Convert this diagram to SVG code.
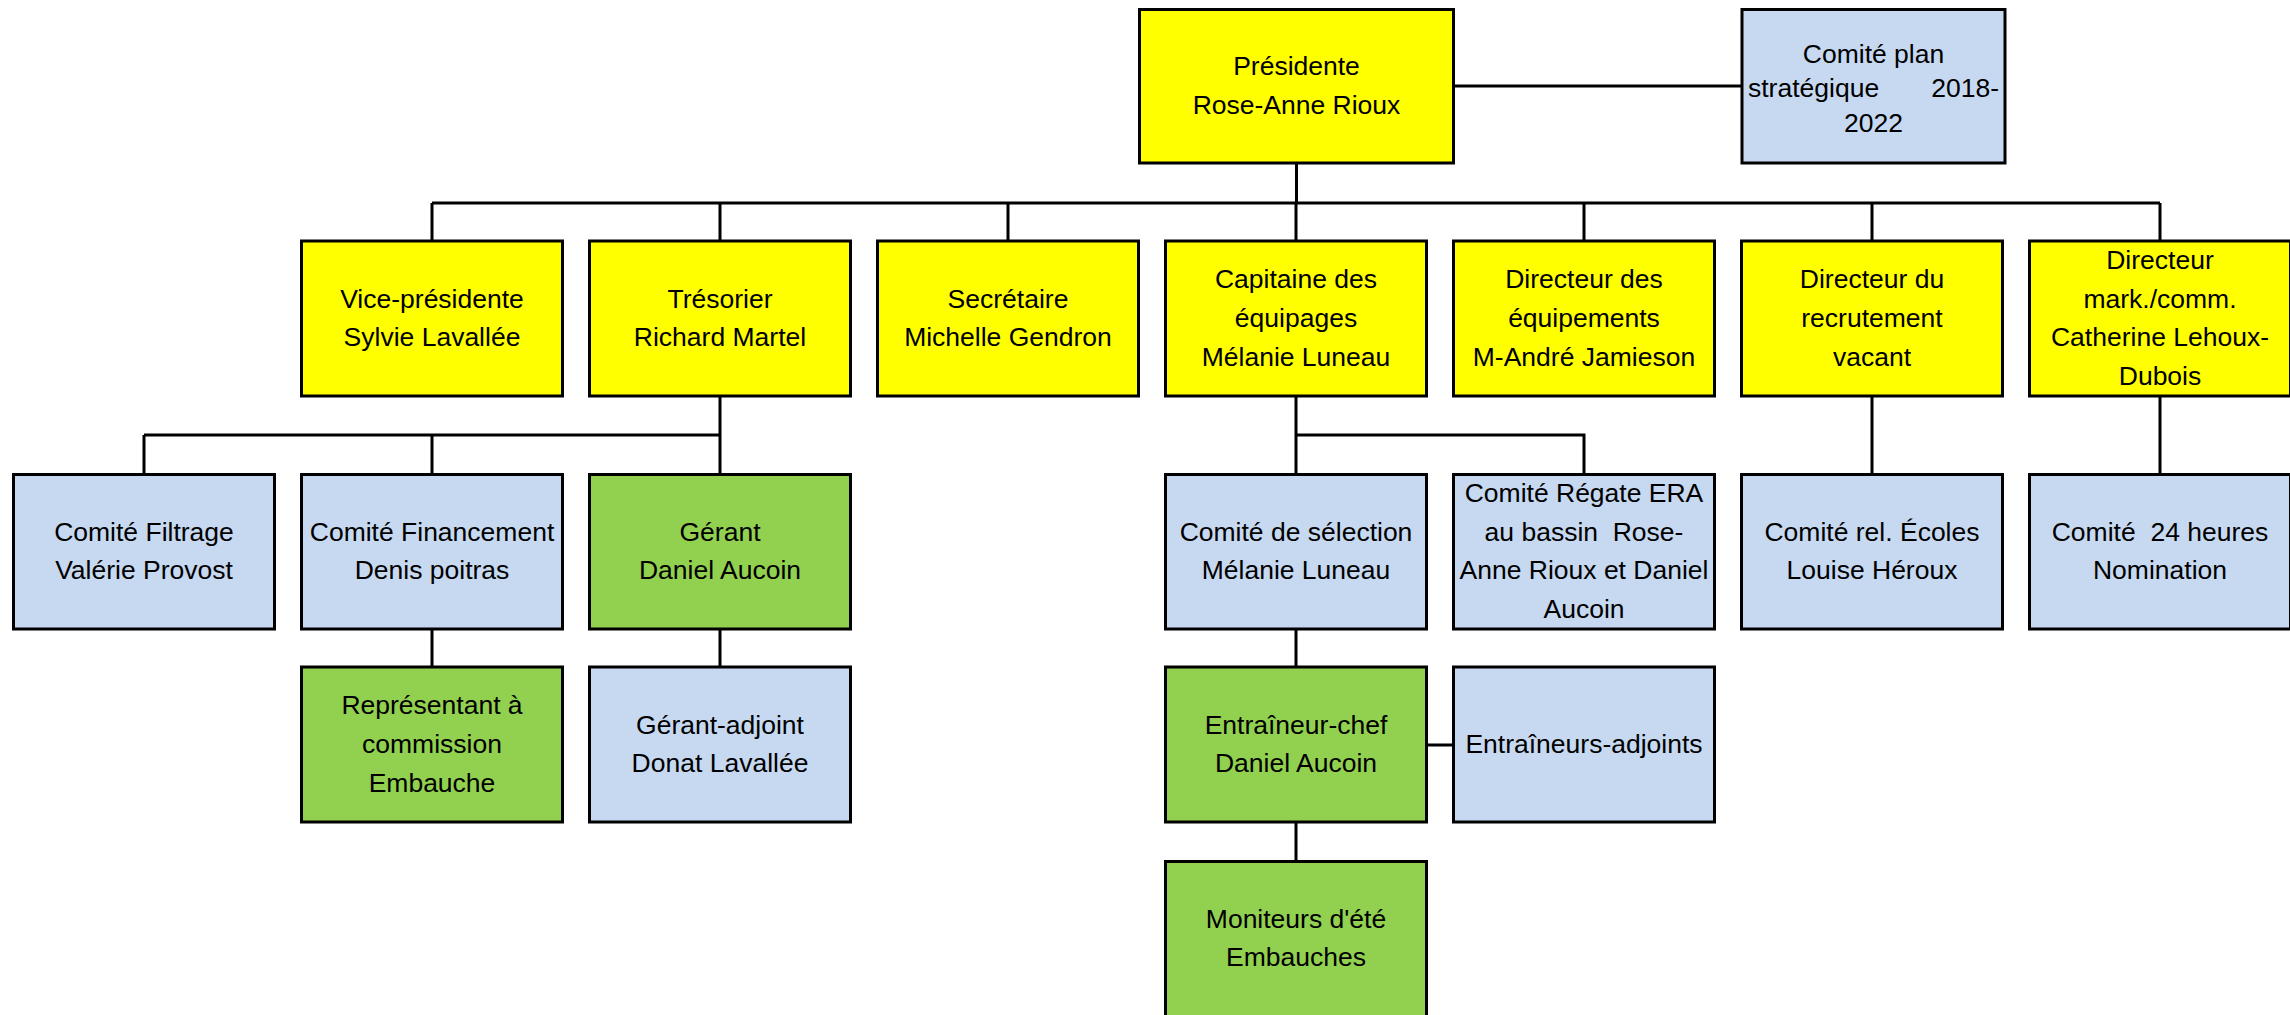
<svg xmlns="http://www.w3.org/2000/svg" width="2290" height="1015" viewBox="0 0 2290 1015">
<style>
.box{stroke:#000;stroke-width:3}
.y{fill:#FFFF00}
.b{fill:#C6D9F1}
.g{fill:#92D050}
.lbl{font-family:"Liberation Sans",Arial,sans-serif;font-size:26.5px;fill:#000;text-anchor:middle}
.c{stroke:#000;stroke-width:3;fill:none}
</style>
<rect width="2290" height="1015" fill="#fff"/>
<g id="connectors">
<path class="c" d="M1453.5 86H1742"/>
<path class="c" d="M1296.5 163V203"/>
<path class="c" d="M432 203H2160"/>
<path class="c" d="M432 203V241M720 203V241M1008 203V241M1296 203V241M1584 203V241M1872 203V241M2160 203V241"/>
<path class="c" d="M720 396V474M144 435H720M144 435V474M432 435V474"/>
<path class="c" d="M432 629V667M720 629V667"/>
<path class="c" d="M1296 396V474M1296 435H1584V474"/>
<path class="c" d="M1872 396V474M2160 396V474"/>
<path class="c" d="M1296 629V667M1296 822V861M1426.5 745H1453"/>
</g>
<g id="presidente">
<rect class="box y" x="1139.5" y="9.5" width="314" height="153.5"/>
<text class="lbl" x="1296.5" y="75">Présidente</text>
<text class="lbl" x="1296.5" y="113.5">Rose-Anne Rioux</text>
</g>
<g id="comite-plan">
<rect class="box b" x="1742" y="9.5" width="263" height="153.5"/>
<text class="lbl" x="1873.5" y="63" font-size="27">Comité plan</text>
<text class="lbl" x="1748" y="97" style="text-anchor:start">stratégique</text>
<text class="lbl" x="1999" y="97" style="text-anchor:end">2018-</text>
<text class="lbl" x="1873.5" y="132">2022</text>
</g>
<g id="vice-presidente">
<rect class="box y" x="301.5" y="241" width="261" height="155"/>
<text class="lbl" x="432" y="307.7">Vice-présidente</text>
<text class="lbl" x="432" y="346.3">Sylvie Lavallée</text>
</g>
<g id="tresorier">
<rect class="box y" x="589.5" y="241" width="261" height="155"/>
<text class="lbl" x="720" y="307.7">Trésorier</text>
<text class="lbl" x="720" y="346.3">Richard Martel</text>
</g>
<g id="secretaire">
<rect class="box y" x="877.5" y="241" width="261" height="155"/>
<text class="lbl" x="1008" y="307.7">Secrétaire</text>
<text class="lbl" x="1008" y="346.3">Michelle Gendron</text>
</g>
<g id="capitaine">
<rect class="box y" x="1165.5" y="241" width="261" height="155"/>
<text class="lbl" x="1296" y="288.3">Capitaine des</text>
<text class="lbl" x="1296" y="327">équipages</text>
<text class="lbl" x="1296" y="365.7">Mélanie Luneau</text>
</g>
<g id="dir-equipements">
<rect class="box y" x="1453.5" y="241" width="261" height="155"/>
<text class="lbl" x="1584" y="288.3">Directeur des</text>
<text class="lbl" x="1584" y="327">équipements</text>
<text class="lbl" x="1584" y="365.7">M-André Jamieson</text>
</g>
<g id="dir-recrutement">
<rect class="box y" x="1741.5" y="241" width="261" height="155"/>
<text class="lbl" x="1872" y="288.3">Directeur du</text>
<text class="lbl" x="1872" y="327">recrutement</text>
<text class="lbl" x="1872" y="365.7">vacant</text>
</g>
<g id="dir-mark">
<rect class="box y" x="2029.5" y="241" width="261" height="155"/>
<text class="lbl" x="2160" y="269">Directeur</text>
<text class="lbl" x="2160" y="307.7">mark./comm.</text>
<text class="lbl" x="2160" y="346.3">Catherine Lehoux-</text>
<text class="lbl" x="2160" y="385">Dubois</text>
</g>
<g id="comite-filtrage">
<rect class="box b" x="13.5" y="474.5" width="261" height="154.5"/>
<text class="lbl" x="144" y="540.7">Comité Filtrage</text>
<text class="lbl" x="144" y="579.3">Valérie Provost</text>
</g>
<g id="comite-financement">
<rect class="box b" x="301.5" y="474.5" width="261" height="154.5"/>
<text class="lbl" x="432" y="540.7">Comité Financement</text>
<text class="lbl" x="432" y="579.3">Denis poitras</text>
</g>
<g id="gerant">
<rect class="box g" x="589.5" y="474.5" width="261" height="154.5"/>
<text class="lbl" x="720" y="540.7">Gérant</text>
<text class="lbl" x="720" y="579.3">Daniel Aucoin</text>
</g>
<g id="comite-selection">
<rect class="box b" x="1165.5" y="474.5" width="261" height="154.5"/>
<text class="lbl" x="1296" y="540.7">Comité de sélection</text>
<text class="lbl" x="1296" y="579.3">Mélanie Luneau</text>
</g>
<g id="comite-regate">
<rect class="box b" x="1453.5" y="474.5" width="261" height="154.5"/>
<text class="lbl" x="1584" y="502">Comité Régate ERA</text>
<text class="lbl" x="1584" y="540.7" xml:space="preserve">au bassin  Rose-</text>
<text class="lbl" x="1584" y="579.3">Anne Rioux et Daniel</text>
<text class="lbl" x="1584" y="618">Aucoin</text>
</g>
<g id="comite-ecoles">
<rect class="box b" x="1741.5" y="474.5" width="261" height="154.5"/>
<text class="lbl" x="1872" y="540.7">Comité rel. Écoles</text>
<text class="lbl" x="1872" y="579.3">Louise Héroux</text>
</g>
<g id="comite-24h">
<rect class="box b" x="2029.5" y="474.5" width="261" height="154.5"/>
<text class="lbl" x="2160" y="540.7" xml:space="preserve">Comité  24 heures</text>
<text class="lbl" x="2160" y="579.3">Nomination</text>
</g>
<g id="representant">
<rect class="box g" x="301.5" y="667" width="261" height="155"/>
<text class="lbl" x="432" y="714.3">Représentant à</text>
<text class="lbl" x="432" y="753">commission</text>
<text class="lbl" x="432" y="791.7">Embauche</text>
</g>
<g id="gerant-adjoint">
<rect class="box b" x="589.5" y="667" width="261" height="155"/>
<text class="lbl" x="720" y="733.7">Gérant-adjoint</text>
<text class="lbl" x="720" y="772.3">Donat Lavallée</text>
</g>
<g id="entraineur-chef">
<rect class="box g" x="1165.5" y="667" width="261" height="155"/>
<text class="lbl" x="1296" y="733.7">Entraîneur-chef</text>
<text class="lbl" x="1296" y="772.3">Daniel Aucoin</text>
</g>
<g id="entraineurs-adjoints">
<rect class="box b" x="1453.5" y="667" width="261" height="155"/>
<text class="lbl" x="1584" y="753">Entraîneurs-adjoints</text>
</g>
<g id="moniteurs">
<rect class="box g" x="1165.5" y="861.5" width="261" height="160"/>
<text class="lbl" x="1296" y="927.7">Moniteurs d'été</text>
<text class="lbl" x="1296" y="966.3">Embauches</text>
</g>
</svg>
